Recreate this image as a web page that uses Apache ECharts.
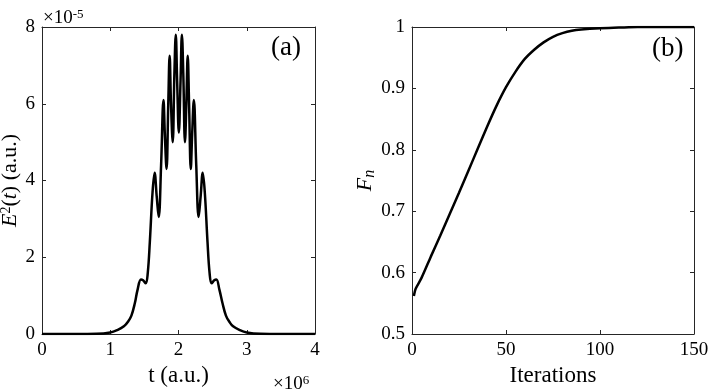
<!DOCTYPE html>
<html>
<head>
<meta charset="utf-8">
<script src="https://cdn.jsdelivr.net/npm/echarts@6/dist/echarts.min.js"></script>
<style>
  html, body { margin: 0; padding: 0; background: #fff; }
  #chart { width: 710px; height: 391px; }
</style>
</head>
<body>
<div id="chart"></div>
<script>
// panel (a): t in units of 1e6 a.u., E^2 in units of 1e-5 a.u.
var pulseT = [0, 0.5, 0.8, 1.0, 1.1, 1.2, 1.26, 1.31, 1.36, 1.4, 1.45, 1.48, 1.52, 1.55, 1.58, 1.62,
  1.65, 1.68, 1.71, 1.745, 1.78, 1.80, 1.825, 1.85, 1.87, 1.89, 1.915, 1.94, 1.96, 1.98, 2.005,
  2.03, 2.05, 2.07, 2.095, 2.115, 2.135, 2.155, 2.18, 2.20, 2.225, 2.26, 2.295, 2.325, 2.355,
  2.385, 2.425, 2.455, 2.485, 2.525, 2.555, 2.60, 2.645, 2.695, 2.745, 2.80, 2.90, 3.0, 3.2, 3.5, 4.0];
var pulseE2 = [0, 0, 0.005, 0.04, 0.1, 0.2, 0.32, 0.48, 0.8, 1.15, 1.42, 1.4, 1.32, 1.6, 2.4, 3.7,
  4.2, 3.6, 3.05, 4.4, 6.1, 5.2, 4.3, 6.0, 7.25, 6.0, 5.0, 6.8, 7.8, 6.6, 5.25,
  6.6, 7.8, 6.8, 5.0, 6.0, 7.25, 6.0, 4.3, 5.2, 6.1, 4.4, 3.05, 3.6, 4.2,
  3.7, 2.4, 1.6, 1.32, 1.4, 1.42, 1.15, 0.8, 0.48, 0.32, 0.2, 0.1, 0.04, 0.005, 0, 0];

// panel (b): fidelity vs iterations
var iters = [1, 2, 5, 10, 15, 20, 25, 30, 35, 40, 45, 50, 55, 60, 65, 70, 75, 80, 85, 90, 100, 110, 120, 150];
var fidelity = [0.562, 0.574, 0.591, 0.626, 0.66, 0.695, 0.73, 0.766, 0.802, 0.838, 0.872, 0.902,
  0.927, 0.948, 0.963, 0.975, 0.984, 0.99, 0.994, 0.996, 0.998, 0.999, 1.0, 1.0];

var tTicks = { min: 0, max: 4, interval: 1 };
var eTicks = { min: 0, max: 8, interval: 2 };
var itTicks = { min: 0, max: 150, interval: 50 };
var fTicks = { min: 0.5, max: 1, interval: 0.1 };

var serif = 'Liberation Serif';
var lineCol = '#262626';

function zip(a, b) {
  var out = [];
  for (var i = 0; i < a.length; i++) out.push([a[i], b[i]]);
  return out;
}

function axis(pos, grid, t, showLabel, extra) {
  var o = {
    type: 'value', gridIndex: grid, position: pos,
    min: t.min, max: t.max, interval: t.interval,
    axisLine: { show: true, onZero: false, lineStyle: { color: lineCol, width: 1 } },
    axisTick: { show: true, inside: true, length: 4, lineStyle: { color: lineCol } },
    axisLabel: { show: showLabel, color: '#000', fontFamily: serif, fontSize: 19, margin: 7 },
    splitLine: { show: false }
  };
  for (var k in extra) o[k] = extra[k];
  return o;
}

var richSerif = {
  i: { fontFamily: serif, fontStyle: 'italic', fontSize: 22, color: '#000' },
  r: { fontFamily: serif, fontSize: 22, color: '#000' },
  m: { fontFamily: serif, fontSize: 19, color: '#000' },
  sup: { fontFamily: serif, fontSize: 14, color: '#000', verticalAlign: 'top', padding: [0, 0, 9, 0] },
  msup: { fontFamily: serif, fontSize: 13, color: '#000', verticalAlign: 'top', padding: [0, 0, 8, 0] },
  sub: { fontFamily: serif, fontStyle: 'italic', fontSize: 16, color: '#000', padding: [9, 0, 0, 0] }
};

var option = {
  animation: false,
  backgroundColor: '#fff',
  grid: [
    { left: 42, right: 395, top: 27, bottom: 57, outerBoundsMode: 'none' },
    { left: 412, right: 16, top: 27, bottom: 57, outerBoundsMode: 'none' }
  ],
  xAxis: [
    axis('bottom', 0, tTicks, true, {
      name: 't (a.u.)', nameLocation: 'middle', nameGap: 29,
      nameTextStyle: { fontFamily: serif, fontSize: 23, color: '#000' }
    }),
    axis('top', 0, tTicks, false, {}),
    axis('bottom', 1, itTicks, true, {
      name: 'Iterations', nameLocation: 'middle', nameGap: 28,
      nameTextStyle: { fontFamily: serif, fontSize: 23, color: '#000' }
    }),
    axis('top', 1, itTicks, false, {})
  ],
  yAxis: [
    axis('left', 0, eTicks, true, {
      name: '{i|E}{sup|2}{r|(}{i|t}{r|) (a.u.)}', nameLocation: 'middle', nameGap: 20, nameRotate: 90,
      nameTextStyle: { rich: richSerif }
    }),
    axis('right', 0, eTicks, false, {}),
    axis('left', 1, fTicks, true, {
      name: '{i|F}{sub|n}', nameLocation: 'middle', nameGap: 32, nameRotate: 90,
      nameTextStyle: { rich: richSerif }
    }),
    axis('right', 1, fTicks, false, {})
  ],
  graphic: [
    { type: 'text', left: 43, top: 8, style: { text: '{m|×10}{msup|-5}', rich: richSerif } },
    { type: 'text', left: 273, top: 374, style: { text: '{m|×10}{msup|6}', rich: richSerif } },
    { type: 'text', left: 271, top: 34, style: { text: '(a)', fontFamily: serif, fontSize: 27, fill: '#000' } },
    { type: 'text', left: 652, top: 35, style: { text: '(b)', fontFamily: serif, fontSize: 27, fill: '#000' } }
  ],
  series: [
    {
      type: 'line', xAxisIndex: 0, yAxisIndex: 0,
      data: zip(pulseT, pulseE2),
      smooth: 0.4, showSymbol: false,
      lineStyle: { color: '#000', width: 2.5 }
    },
    {
      type: 'line', xAxisIndex: 2, yAxisIndex: 2,
      data: zip(iters, fidelity),
      smooth: 0.25, showSymbol: false,
      lineStyle: { color: '#000', width: 2.5 }
    }
  ]
};

var chart = echarts.init(document.getElementById('chart'));
chart.setOption(option);
</script>
</body>
</html>
